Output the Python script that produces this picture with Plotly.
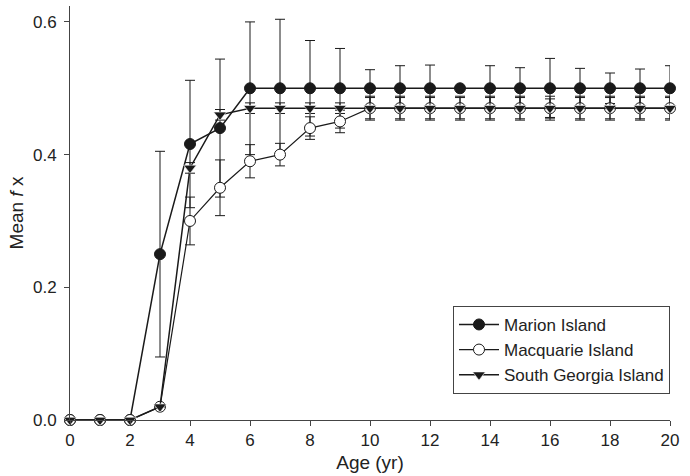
import plotly.graph_objects as go

ages = list(range(0, 21))
marion = [0, 0, 0, 0.25, 0.416, 0.44, 0.50, 0.50, 0.50, 0.50, 0.50,
          0.50, 0.50, 0.50, 0.50, 0.50, 0.50, 0.50, 0.50, 0.50, 0.50]
marion_err = [0, 0, 0, 0.155, 0.096, 0.104, 0.10, 0.104, 0.072, 0.06, 0.028,
              0.034, 0.035, 0, 0.034, 0.031, 0.045, 0.03, 0.023, 0.029, 0.034]
macquarie = [0, 0, 0, 0.02, 0.30, 0.35, 0.39, 0.40, 0.44, 0.45, 0.47,
             0.47, 0.47, 0.47, 0.47, 0.47, 0.47, 0.47, 0.47, 0.47, 0.47]
macquarie_err = [0, 0, 0, 0, 0.036, 0.042, 0.025, 0.017, 0.017, 0.017, 0.018,
                 0.018, 0.018, 0.018, 0.018, 0.018, 0.018, 0.018, 0.018, 0.018, 0.018]
sgeorgia = [0, 0, 0, 0.02, 0.38, 0.46, 0.47, 0.47, 0.47, 0.47, 0.47,
            0.47, 0.47, 0.47, 0.47, 0.47, 0.47, 0.47, 0.47, 0.47, 0.47]
sgeorgia_err = [0, 0, 0, 0, 0.008, 0.008, 0.008, 0.008, 0.008, 0.008, 0.016,
                0.016, 0.016, 0.016, 0.016, 0.016, 0.014, 0.016, 0.016, 0.016, 0.016]

x_ticks = list(range(0, 21, 2))
y_ticks = [0.0, 0.2, 0.4, 0.6]

INK = "#1a1a1a"
FONT = "Arial, Liberation Sans, sans-serif"

def err(vals):
    return dict(type="data", array=vals, visible=True, color=INK, thickness=1, width=5)

fig = go.Figure()
fig.add_trace(go.Scatter(
    x=ages, y=marion, name="Marion Island", mode="lines+markers",
    line=dict(color=INK, width=1.5),
    marker=dict(symbol="circle", size=11, color=INK, line=dict(color=INK, width=1)),
    error_y=err(marion_err), cliponaxis=False))
fig.add_trace(go.Scatter(
    x=ages, y=macquarie, name="Macquarie Island", mode="lines+markers",
    line=dict(color=INK, width=1.2),
    marker=dict(symbol="circle", size=11, color="white", line=dict(color=INK, width=1)),
    error_y=err(macquarie_err), cliponaxis=False))
fig.add_trace(go.Scatter(
    x=ages, y=sgeorgia, name="South Georgia Island", mode="lines+markers",
    line=dict(color=INK, width=1.5),
    marker=dict(symbol="triangle-down", size=11, color=INK, line=dict(color="white", width=0.6)),
    error_y=err(sgeorgia_err), cliponaxis=False))

fig.update_layout(
    width=690, height=476,
    margin=dict(l=70, r=20, t=6, b=56),
    paper_bgcolor="white", plot_bgcolor="white",
    font=dict(family=FONT, size=17, color="#222"),
    showlegend=True,
    legend=dict(x=1, xanchor="right", y=0.063, yanchor="bottom",
                bgcolor="white", bordercolor="#444", borderwidth=1,
                font=dict(size=17, color="#222"), tracegroupgap=0,
                itemwidth=40),
    xaxis=dict(range=[0, 20], tickvals=x_ticks, ticks="outside", ticklen=5,
               tickcolor="#444", showline=True, linecolor="#444", linewidth=1,
               showgrid=False, zeroline=False, tickfont=dict(size=17),
               title=dict(text="Age (yr)", standoff=6, font=dict(size=19))),
    yaxis=dict(range=[0, 0.624], tickvals=y_ticks, tickformat=".1f",
               ticks="outside", ticklen=5, tickcolor="#444",
               showline=True, linecolor="#444", linewidth=1,
               showgrid=False, zeroline=False, ticklabelstandoff=4,
               tickfont=dict(size=17),
               title=dict(text="Mean <i>f</i> x", standoff=4, font=dict(size=19))),
)

fig.write_html("out.html")
